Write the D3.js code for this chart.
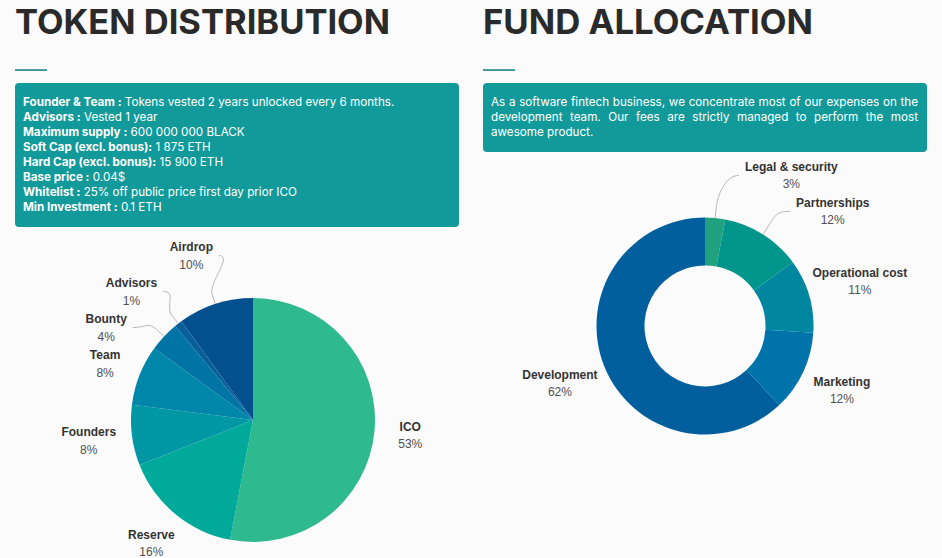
<!DOCTYPE html>
<html>
<head>
<meta charset="utf-8">
<script src="https://cdn.jsdelivr.net/npm/d3@7"></script>
<style>
html,body{margin:0;padding:0;width:942px;height:558px;overflow:hidden;background:#fbfbfb;}
#root{position:relative;width:942px;height:558px;}
svg{position:absolute;left:0;top:0;}
text{white-space:pre;}
</style>
</head>
<body>
<div id="root"></div>
<script>
// ---------- DATA ----------
const titles = ["TOKEN DISTRIBUTION", "FUND ALLOCATION"];

const tokenCategories = ["ICO", "Reserve", "Founders", "Team", "Bounty", "Advisors", "Airdrop"];
const tokenValues     = [53, 16, 8, 8, 4, 1, 10];
const tokenColors     = ["#2eb98f", "#00a99a", "#0097a5", "#0086a8", "#0074a4", "#07609a", "#04508f"];

const fundCategories = ["Legal & security", "Partnerships", "Operational cost", "Marketing", "Development"];
const fundValues     = [3, 12, 11, 12, 62];
const fundColors     = ["#20a27e", "#00968b", "#0087a0", "#0074aa", "#015f9e"];

const tokenInfoKeys = ["Founder & Team :", "Advisors :", "Maximum supply :", "Soft Cap (excl. bonus):",
                       "Hard Cap (excl. bonus):", "Base price :", "Whitelist :", "Min Investment :"];
const tokenInfoVals = [" Tokens vested 2 years unlocked every 6 months.", " Vested 1 year", " 600 000 000 BLACK",
                       " 1 875 ETH", " 15 900 ETH", " 0.04$", " 25% off public price first day prior ICO", " 0.1 ETH"];

const fundInfoLines = ["As a software fintech business, we concentrate most of our expenses on the",
                       "development team. Our fees are strictly managed to perform the most",
                       "awesome product."];

// ---------- STYLE / LAYOUT ----------
const W = 942, H = 558;
const BOX_COLOR = "#129a9a";
const TITLE_FONT = "Inter, 'Open Sans', sans-serif";
const BOX_FONT = "Inter, 'Open Sans', sans-serif";
const LABEL_FONT = "'Liberation Sans', Arial, Helvetica, sans-serif";
const CENTER_GAP = 40, SPACING = 36, CLEAR = 25;

const svg = d3.select("#root").append("svg").attr("width", W).attr("height", H);
svg.append("rect").attr("width", W).attr("height", H).attr("fill", "#fbfbfb");

// titles + underline
function drawTitle(text, x, width) {
  svg.append("text").attr("x", x).attr("y", 34).text(text)
    .attr("font-family", TITLE_FONT).attr("font-weight", 700).attr("font-size", 34)
    .attr("fill", "#2a2a2a").attr("textLength", width).attr("lengthAdjust", "spacingAndGlyphs");
  svg.append("rect").attr("x", x).attr("y", 69.3).attr("width", 32).attr("height", 1.5).attr("fill", "#0e7b7b");
}
drawTitle(titles[0], 15, 375);
drawTitle(titles[1], 483, 330);

// info boxes
svg.append("rect").attr("x", 15).attr("y", 83).attr("width", 444).attr("height", 144).attr("rx", 4).attr("fill", BOX_COLOR);
svg.append("rect").attr("x", 483).attr("y", 83).attr("width", 444).attr("height", 69).attr("rx", 4).attr("fill", BOX_COLOR);

const leftLines = tokenInfoKeys.map((k, i) => {
  const t = svg.append("text").attr("x", 23).attr("y", 106 + i * 15)
    .attr("font-family", BOX_FONT).attr("font-size", 11).attr("fill", "#fff");
  t.append("tspan").attr("font-weight", 700).text(k);
  t.append("tspan").attr("font-weight", 400).text(tokenInfoVals[i]);
  return t;
});
const l0 = leftLines[0].node().getComputedTextLength();
const fs = Math.max(9.5, Math.min(12, 11 * 372 / l0));
leftLines.forEach(t => t.attr("font-size", fs));

fundInfoLines.forEach((line, i) => {
  const t = svg.append("text").attr("x", 491).attr("y", 106 + i * 15)
    .attr("font-family", BOX_FONT).attr("font-size", fs).attr("fill", "#fff").text(line);
  if (i < fundInfoLines.length - 1) {
    const len = t.node().getComputedTextLength();
    const spaces = (line.match(/ /g) || []).length;
    if (spaces) t.attr("word-spacing", (427 - len) / spaces);
  }
});

// ---------- PIES ----------
function overlap(a, b) {
  return Math.abs(a.nx - b.nx) < (a.w + b.w) / 2 && Math.abs(a.ny - b.ny) < (a.h + b.h) / 2;
}

function drawPie(cats, vals, colors, cx, cy, r, r0) {
  const data = cats.map((c, i) => ({ name: c, value: vals[i], color: colors[i] }));
  const arcs = d3.pie().sort(null).value(d => d.value)(data);
  const total = d3.sum(vals);
  const arc = d3.arc().innerRadius(r0).outerRadius(r);
  const g = svg.append("g").attr("transform", `translate(${cx},${cy})`);
  g.selectAll("path.slice").data(arcs).join("path").attr("class", "slice")
    .attr("d", arc).attr("fill", d => d.data.color);

  const cg = g.append("g");
  const lg = g.append("g").attr("font-family", LABEL_FONT).attr("font-size", 12);
  const labs = arcs.map(a => {
    const mid = (a.startAngle + a.endAngle) / 2;
    const ux = Math.sin(mid), uy = -Math.cos(mid);
    const node = lg.append("g");
    const t1 = node.append("text").attr("text-anchor", "middle").attr("y", -4.3)
      .attr("font-weight", 700).attr("fill", "#333").text(a.data.name);
    const t2 = node.append("text").attr("text-anchor", "middle").attr("y", 13)
      .attr("fill", "#505050").text(Math.round(a.data.value / total * 100) + "%");
    const w = Math.max(t1.node().getComputedTextLength(), t2.node().getComputedTextLength());
    const L = r + 30 + Math.abs(ux) * w / 4;
    return { mid, ux, uy, node, w, h: 34, x: ux * L, y: uy * L, nx: ux * L, ny: uy * L,
             side: mid < Math.PI ? 1 : -1, moved: false };
  });

  // labels whose natural boxes collide are displaced
  labs.forEach((a, i) => labs.forEach((b, j) => { if (i !== j && overlap(a, b)) a.moved = true; }));

  // keep labels away from the vertical centre line
  labs.forEach(l => {
    const near = l.side > 0 ? l.x - l.w / 2 : -(l.x + l.w / 2);
    if (near < CENTER_GAP) { l.x = l.side * (CENTER_GAP + l.w / 2); l.moved = true; }
  });

  // vertical distribution per side
  [1, -1].forEach(side => {
    const arr = labs.filter(l => l.side === side).sort((p, q) => p.ny - q.ny);
    const clusters = arr.map(l => ({ m: [l], sum: l.ny }));
    const place = c => {
      const n = c.m.length, top = c.sum / n - (n - 1) * SPACING / 2;
      c.m.forEach((l, i) => l.y = top + i * SPACING);
    };
    clusters.forEach(place);
    let changed = true;
    while (changed) {
      changed = false;
      for (let i = 0; i < clusters.length - 1; i++) {
        const A = clusters[i], B = clusters[i + 1];
        if (B.m[0].y - A.m[A.m.length - 1].y < SPACING) {
          A.m = A.m.concat(B.m); A.sum += B.sum; clusters.splice(i + 1, 1);
          place(A); changed = true; break;
        }
      }
    }
  });

  // clearance from the pie for displaced labels
  labs.forEach(l => {
    if (!l.moved) return;
    const top = l.y - l.h / 2, bot = l.y + l.h / 2;
    const dyn = (top <= 0 && bot >= 0) ? 0 : Math.min(Math.abs(top), Math.abs(bot));
    const R = r + CLEAR;
    const dx = dyn < R ? Math.sqrt(R * R - dyn * dyn) : 0;
    if (l.side > 0) l.x = Math.max(l.x, dx + l.w / 2);
    else l.x = Math.min(l.x, -dx - l.w / 2);
  });

  labs.forEach(l => {
    l.node.attr("transform", `translate(${l.x},${l.y})`);
    if (!l.moved) return;
    const sx = l.side > 0 ? l.x - l.w / 2 - 6 : l.x + l.w / 2 + 6, sy = l.y;
    const tx = r * l.ux, ty = r * l.uy;
    const bx = (r + 10) * l.ux, by = (r + 10) * l.uy;
    const p = d3.path();
    p.moveTo(sx, sy);
    p.bezierCurveTo(sx - l.side * 14, sy, bx + l.ux * 12, by + l.uy * 12, bx, by);
    p.lineTo(tx, ty);
    cg.append("path").attr("d", p.toString()).attr("fill", "none")
      .attr("stroke", "#b8b8b8").attr("stroke-width", 1);
  });
}

drawPie(tokenCategories, tokenValues, tokenColors, 253, 420, 122, 0);
drawPie(fundCategories, fundValues, fundColors, 705, 326, 108.5, 60.5);
</script>
</body>
</html>
